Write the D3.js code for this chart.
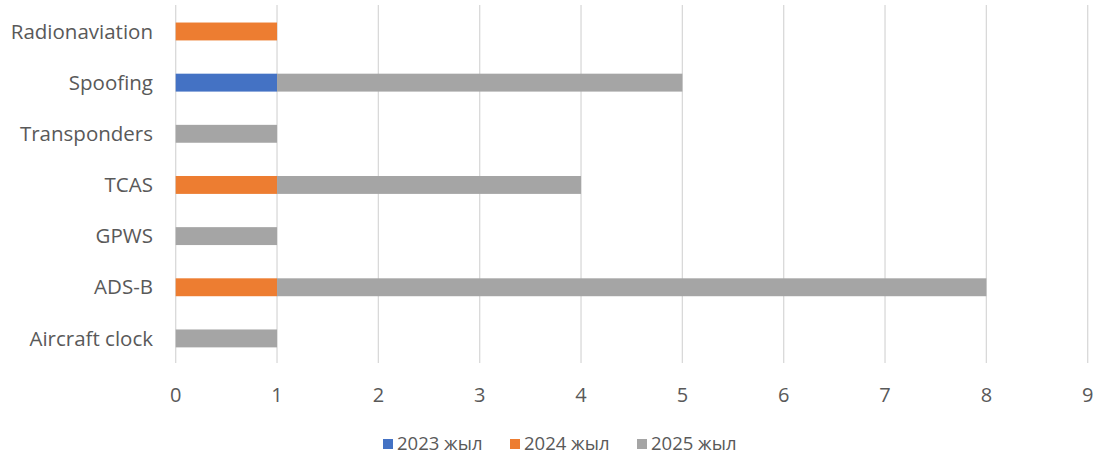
<!DOCTYPE html>
<html>
<head>
<meta charset="utf-8">
<script src="https://cdn.jsdelivr.net/npm/d3@7"></script>
<style>
  body { margin: 0; background: #fff; }
  text { font-family: "Open Sans", "Noto Sans", sans-serif; fill: #595959; }
</style>
</head>
<body>
<svg id="chart" width="1096" height="459"></svg>
<script>
const categories = ["Radionaviation", "Spoofing", "Transponders", "TCAS", "GPWS", "ADS-B", "Aircraft clock"];
const seriesNames = ["2023 жыл", "2024 жыл", "2025 жыл"];
const values2023 = [0, 1, 0, 0, 0, 0, 0];
const values2024 = [1, 0, 0, 1, 0, 1, 0];
const values2025 = [0, 4, 1, 3, 1, 7, 1];
const xTicks = [0, 1, 2, 3, 4, 5, 6, 7, 8, 9];
const colors = ["#4472C4", "#ED7D31", "#A5A5A5"];

const svg = d3.select("#chart");
const margin = { left: 175.7, right: 8.3, top: 5.9, bottom: 95 };
const width = 1096, height = 459;

const rows = categories.map((c, i) => ({
  name: c,
  "2023 жыл": values2023[i],
  "2024 жыл": values2024[i],
  "2025 жыл": values2025[i]
}));

const x = d3.scaleLinear().domain([0, 9]).range([margin.left, width - margin.right]);
const y = d3.scaleBand().domain(categories).range([margin.top, 364]).paddingInner(0.65).paddingOuter(0.325);

// gridlines
svg.append("g")
  .selectAll("line")
  .data(xTicks)
  .join("line")
  .attr("x1", d => x(d)).attr("x2", d => x(d))
  .attr("y1", 5).attr("y2", 363)
  .attr("stroke", "#D9D9D9")
  .attr("stroke-width", 1.3);

const stack = d3.stack().keys(seriesNames)(rows);

svg.append("g")
  .selectAll("g")
  .data(stack)
  .join("g")
  .attr("fill", (d, i) => colors[i])
  .selectAll("rect")
  .data(d => d.filter(p => p[1] > p[0]))
  .join("rect")
  .attr("x", d => x(d[0]))
  .attr("width", d => x(d[1]) - x(d[0]))
  .attr("y", d => y(d.data.name))
  .attr("height", y.bandwidth());

// category labels
svg.append("g")
  .selectAll("text")
  .data(categories)
  .join("text")
  .attr("x", 153)
  .attr("y", d => y(d) + y.bandwidth() / 2)
  .attr("dy", "0.35em")
  .attr("text-anchor", "end")
  .attr("font-size", 20.5)
  .text(d => d);

// x tick labels
svg.append("g")
  .selectAll("text")
  .data(xTicks)
  .join("text")
  .attr("x", d => x(d))
  .attr("y", 395)
  .attr("dy", "0.35em")
  .attr("text-anchor", "middle")
  .attr("font-size", 20)
  .text(d => d);

// legend
const legendX = [383, 510, 637];
const legend = svg.append("g")
  .selectAll("g")
  .data(seriesNames)
  .join("g")
  .attr("transform", (d, i) => `translate(${legendX[i]},444)`);
legend.append("rect")
  .attr("x", 0).attr("y", -5)
  .attr("width", 10).attr("height", 10)
  .attr("fill", (d, i) => colors[i]);
legend.append("text")
  .attr("x", 14)
  .attr("dy", "0.35em")
  .attr("font-size", 18.5)
  .text(d => d);
</script>
</body>
</html>
